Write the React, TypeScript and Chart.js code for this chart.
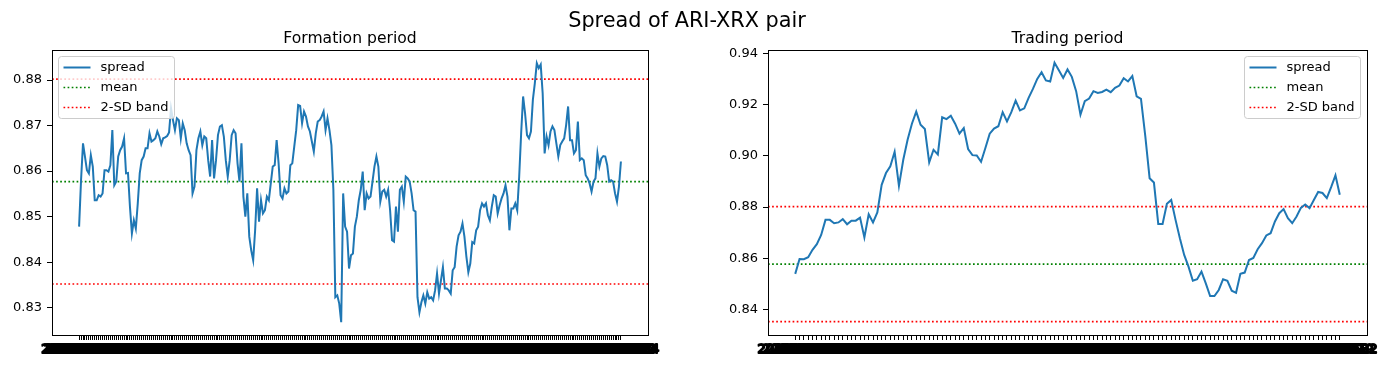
import React, { useEffect, useRef } from 'react';
import { Chart, registerables } from 'chart.js';

Chart.register(...registerables);

const FONT = '"DejaVu Sans", "Liberation Sans", sans-serif';
Chart.defaults.font.family = FONT;
Chart.defaults.color = '#000';

// ---------- data ----------
const formationSpread: number[] = [
  0.8478, 0.8580, 0.8661, 0.8632, 0.8602, 0.8595, 0.8635, 0.8610, 0.8536, 0.8536,
  0.8547, 0.8544, 0.8551, 0.8602, 0.8602, 0.8599, 0.8613, 0.8690, 0.8569, 0.8577,
  0.8632, 0.8646, 0.8654, 0.8672, 0.8595, 0.8596, 0.8522, 0.8463, 0.8492, 0.8474,
  0.8529, 0.8595, 0.8624, 0.8632, 0.8650, 0.8650, 0.8683, 0.8665, 0.8668, 0.8672,
  0.8687, 0.8676, 0.8659, 0.8672, 0.8674, 0.8677, 0.8685, 0.8738, 0.8712, 0.8690,
  0.8716, 0.8712, 0.8672, 0.8705, 0.8690, 0.8661, 0.8646, 0.8635, 0.8551, 0.8566,
  0.8646, 0.8672, 0.8687, 0.8657, 0.8676, 0.8672, 0.8624, 0.8588, 0.8668, 0.8584,
  0.8624, 0.8679, 0.8698, 0.8701, 0.8676, 0.8624, 0.8588, 0.8624, 0.8679, 0.8690,
  0.8683, 0.8617, 0.8577, 0.8661, 0.8544, 0.8500, 0.8551, 0.8456, 0.8426, 0.8404,
  0.8470, 0.8562, 0.8489, 0.8536, 0.8507, 0.8514, 0.8544, 0.8536, 0.8573, 0.8610,
  0.8613, 0.8668, 0.8617, 0.8547, 0.8540, 0.8562, 0.8551, 0.8555, 0.8613, 0.8617,
  0.8654, 0.8690, 0.8745, 0.8743, 0.8705, 0.8731, 0.8720, 0.8698, 0.8687, 0.8665,
  0.8643, 0.8683, 0.8709, 0.8712, 0.8720, 0.8731, 0.8690, 0.8716, 0.8690, 0.8657,
  0.8559, 0.8323, 0.8327, 0.8309, 0.8268, 0.8551, 0.8478, 0.8467, 0.8386, 0.8415,
  0.8419, 0.8478, 0.8500, 0.8536, 0.8559, 0.8599, 0.8514, 0.8551, 0.8540, 0.8544,
  0.8577, 0.8610, 0.8632, 0.8610, 0.8533, 0.8555, 0.8559, 0.8544, 0.8559, 0.8514,
  0.8448, 0.8445, 0.8522, 0.8467, 0.8559, 0.8566, 0.8533, 0.8588, 0.8584, 0.8577,
  0.8551, 0.8514, 0.8511, 0.8323, 0.8290, 0.8312, 0.8327, 0.8309, 0.8334, 0.8320,
  0.8323, 0.8316, 0.8338, 0.8375,
  0.8331, 0.8360, 0.8389, 0.8342, 0.8342, 0.8338, 0.8331, 0.8382, 0.8389, 0.8434,
  0.8459, 0.8467, 0.8485, 0.8456, 0.8412, 0.8378, 0.8397, 0.8444, 0.8441, 0.8470,
  0.8478, 0.8514, 0.8529, 0.8522, 0.8529, 0.8503, 0.8492, 0.8522, 0.8547, 0.8544,
  0.8507, 0.8525, 0.8540, 0.8551, 0.8569, 0.8544, 0.8470, 0.8518, 0.8518, 0.8529,
  0.8514, 0.8588, 0.8683, 0.8764, 0.8727, 0.8679, 0.8672, 0.8687, 0.8757, 0.8793,
  0.8837, 0.8826, 0.8834, 0.8771, 0.8639, 0.8676, 0.8657, 0.8687, 0.8698, 0.8690,
  0.8661, 0.8632, 0.8657, 0.8665, 0.8672, 0.8701, 0.8742, 0.8668, 0.8668, 0.8639,
  0.8646, 0.8709, 0.8624, 0.8628, 0.8624, 0.8591, 0.8584, 0.8573, 0.8555, 0.8577,
  0.8584, 0.8639, 0.8610, 0.8628, 0.8633, 0.8632, 0.8613, 0.8577, 0.8580, 0.8577,
  0.8551, 0.8533, 0.8566, 0.8621,
];

const tradingSpread: number[] = [
  0.8539, 0.8597, 0.8596, 0.8604, 0.8633, 0.8655, 0.8691, 0.8750, 0.8750, 0.8737,
  0.8740, 0.8753, 0.8733, 0.8747, 0.8747, 0.8759, 0.8681, 0.8772, 0.8740, 0.8779,
  0.8887, 0.8933, 0.8959, 0.9016, 0.8883, 0.8985, 0.9063, 0.9126, 0.9173, 0.9122,
  0.9105, 0.8975, 0.9024, 0.9006, 0.9151, 0.9144, 0.9157, 0.9126, 0.9087, 0.9109,
  0.9027, 0.9003, 0.9002, 0.8977, 0.9031, 0.9087, 0.9107, 0.9116, 0.9171, 0.9135,
  0.9171, 0.9216, 0.9178, 0.9186, 0.9227, 0.9262, 0.9301, 0.9327, 0.9295, 0.9291,
  0.9364, 0.9335, 0.9305,
  0.9338, 0.9309, 0.9253, 0.9161, 0.9214, 0.9224, 0.9253, 0.9246, 0.9250, 0.9259,
  0.9249, 0.9266, 0.9275, 0.9304, 0.9291, 0.9312, 0.9233, 0.9223, 0.9077, 0.8913,
  0.8896, 0.8734, 0.8734, 0.8813, 0.8828, 0.8750, 0.8678, 0.8613, 0.8567, 0.8512,
  0.8518, 0.8548, 0.8502, 0.8452, 0.8452, 0.8476, 0.8518, 0.8512, 0.8473, 0.8465,
  0.8539, 0.8544, 0.8593, 0.8601, 0.8635, 0.8659, 0.8689, 0.8698, 0.8744, 0.8776,
  0.8792, 0.8757, 0.8737, 0.8763, 0.8797, 0.8810, 0.8796, 0.8828, 0.8859, 0.8855,
  0.8835, 0.8878, 0.8924, 0.8848,
];

const spreadMean = 0.8577;
const upperBand = 0.8802;
const lowerBand = 0.8352;

const formationYTicks = [0.83, 0.84, 0.85, 0.86, 0.87, 0.88];
const tradingYTicks = [0.84, 0.86, 0.88, 0.90, 0.92, 0.94];
const formationYRange = [0.8240, 0.8866];
const tradingYRange = [0.8300, 0.9414];

const formationStartDate = '2018-01-02';

function businessDays(start: string, count: number): string[] {
  const out: string[] = [];
  const d = new Date(start + 'T00:00:00Z');
  while (out.length < count) {
    const wd = d.getUTCDay();
    if (wd !== 0 && wd !== 6) out.push(d.toISOString().slice(0, 10));
    d.setUTCDate(d.getUTCDate() + 1);
  }
  return out;
}

const formationDates = businessDays(formationStartDate, formationSpread.length);
const tradingStart = (() => {
  const d = new Date(formationDates[formationDates.length - 1] + 'T00:00:00Z');
  d.setUTCDate(d.getUTCDate() + 1);
  return d.toISOString().slice(0, 10);
})();
const tradingDates = businessDays(tradingStart, tradingSpread.length);

const SPREAD_COLOR = '#1f77b4';
const DOT: number[] = [1.7, 2.4];

// ---------- plugins ----------
const framePlugin = {
  id: 'mplFrame',
  afterDraw(chart: any) {
    const { ctx, chartArea: a } = chart;
    ctx.save();
    ctx.strokeStyle = '#000';
    ctx.lineWidth = 1;
    ctx.setLineDash([]);
    ctx.strokeRect(Math.floor(a.left) + 0.5, Math.floor(a.top) + 0.5,
      Math.round(a.right - a.left), Math.round(a.bottom - a.top));
    ctx.restore();
  },
};

// draws every category label under its tick (they overlap into a band, as in the original)
function makeXLabelPlugin(labels: string[]) {
  return {
    id: 'mplXLabels',
    afterDraw(chart: any) {
      const { ctx, chartArea: a } = chart;
      const xs = chart.scales.x;
      ctx.save();
      ctx.fillStyle = '#000';
      ctx.strokeStyle = '#000';
      ctx.lineWidth = 1.8;
      ctx.lineJoin = 'round';
      ctx.font = `13px ${FONT}`;
      ctx.textAlign = 'center';
      ctx.textBaseline = 'top';
      labels.forEach((lab, i) => {
        const x = xs.getPixelForValue(i) + (i % 2) * 0.5;
        ctx.fillText(lab, x, a.bottom + 8);
        ctx.strokeText(lab, x, a.bottom + 8);
      });
      ctx.restore();
    },
  };
}

function makeTitlePlugin(text: string) {
  return {
    id: 'mplTitle',
    afterDraw(chart: any) {
      const { ctx, chartArea: a } = chart;
      ctx.save();
      ctx.fillStyle = '#000';
      ctx.font = `15.6px ${FONT}`;
      ctx.textAlign = 'center';
      ctx.textBaseline = 'alphabetic';
      ctx.fillText(text, (a.left + a.right) / 2, a.top - 7);
      ctx.restore();
    },
  };
}

function makeLegendPlugin(side: 'left' | 'right') {
  return {
    id: 'mplLegend',
    afterDraw(chart: any) {
      const { ctx, chartArea: a } = chart;
      const seen = new Set<string>();
      const entries: any[] = [];
      chart.data.datasets.forEach((ds: any) => {
        if (seen.has(ds.label)) return;
        seen.add(ds.label);
        entries.push(ds);
      });
      const w = 116;
      const h = 62;
      const x = side === 'left' ? Math.round(a.left) + 6.5 : Math.round(a.right) - 6.5 - w;
      const y = Math.round(a.top) + 6.5;
      ctx.save();
      ctx.beginPath();
      const r = 3;
      ctx.moveTo(x + r, y);
      ctx.lineTo(x + w - r, y);
      ctx.arcTo(x + w, y, x + w, y + r, r);
      ctx.lineTo(x + w, y + h - r);
      ctx.arcTo(x + w, y + h, x + w - r, y + h, r);
      ctx.lineTo(x + r, y + h);
      ctx.arcTo(x, y + h, x, y + h - r, r);
      ctx.lineTo(x, y + r);
      ctx.arcTo(x, y, x + r, y, r);
      ctx.closePath();
      ctx.fillStyle = 'rgba(255,255,255,0.8)';
      ctx.fill();
      ctx.strokeStyle = '#cccccc';
      ctx.lineWidth = 1;
      ctx.stroke();
      entries.forEach((ds, i) => {
        const cy = y + 11 + i * 20;
        ctx.beginPath();
        ctx.setLineDash(ds.borderDash || []);
        ctx.strokeStyle = ds.borderColor;
        ctx.lineWidth = ds.borderWidth;
        ctx.moveTo(x + 5, cy);
        ctx.lineTo(x + 32, cy);
        ctx.stroke();
        ctx.setLineDash([]);
        ctx.fillStyle = '#000';
        ctx.font = `13px ${FONT}`;
        ctx.textBaseline = 'middle';
        ctx.textAlign = 'left';
        ctx.fillText(ds.label, x + 42, cy);
      });
      ctx.restore();
    },
  };
}

// ---------- panel ----------
interface PanelProps {
  title: string;
  labels: string[];
  values: number[];
  yRange: number[];
  yTicks: number[];
  legendSide: 'left' | 'right';
  yAxisWidth: number;
  padRight: number;
  left: number;
}

function SpreadPanel(p: PanelProps) {
  const ref = useRef<HTMLCanvasElement>(null);
  useEffect(() => {
    const n = p.values.length;
    const xMin = -0.05 * (n - 1);
    const xMax = (n - 1) * 1.05;
    const hline = (v: number) => [{ x: xMin, y: v }, { x: xMax, y: v }];
    const chart = new Chart(ref.current as HTMLCanvasElement, {
      type: 'line',
      data: {
        datasets: [
          {
            label: 'spread',
            data: p.values.map((v, i) => ({ x: i, y: v })),
            borderColor: SPREAD_COLOR,
            borderWidth: 2,
            pointRadius: 0,
            tension: 0,
          },
          {
            label: 'mean',
            data: hline(spreadMean),
            borderColor: 'green',
            borderWidth: 1.7,
            borderDash: DOT,
            pointRadius: 0,
          },
          {
            label: '2-SD band',
            data: hline(upperBand),
            borderColor: 'red',
            borderWidth: 1.7,
            borderDash: DOT,
            pointRadius: 0,
          },
          {
            label: '2-SD band',
            data: hline(lowerBand),
            borderColor: 'red',
            borderWidth: 1.7,
            borderDash: DOT,
            pointRadius: 0,
          },
        ],
      } as any,
      options: {
        responsive: false,
        animation: false,
        events: [],
        layout: { padding: { left: 0, right: p.padRight, top: 50, bottom: 0 } },
        plugins: {
          legend: { display: false },
          tooltip: { enabled: false },
          title: { display: false },
        },
        scales: {
          x: {
            type: 'linear',
            min: xMin,
            max: xMax,
            afterBuildTicks: (ax: any) => {
              ax.ticks = p.labels.map((_, i) => ({ value: i }));
            },
            afterFit: (ax: any) => {
              ax.height = 39;
              ax.paddingLeft = 0;
              ax.paddingRight = 0;
            },
            ticks: {
              display: false,
              autoSkip: false,
              maxRotation: 0,
              minRotation: 0,
            },
            grid: {
              display: true,
              drawOnChartArea: false,
              drawTicks: true,
              tickLength: 5,
              tickColor: '#000',
              tickWidth: 1,
            },
            border: { display: false },
          },
          y: {
            type: 'linear',
            min: p.yRange[0],
            max: p.yRange[1],
            afterBuildTicks: (ax: any) => {
              ax.ticks = p.yTicks.map((v) => ({ value: v }));
            },
            afterFit: (ax: any) => {
              ax.width = p.yAxisWidth;
              ax.paddingTop = 0;
              ax.paddingBottom = 0;
            },
            ticks: {
              padding: 5,
              color: '#000',
              font: { size: 13, family: FONT },
              callback: (v: any) => Number(v).toFixed(2),
            },
            grid: {
              display: true,
              drawOnChartArea: false,
              drawTicks: true,
              tickLength: 5,
              tickColor: '#000',
              tickWidth: 1,
            },
            border: { display: false },
          },
        },
      } as any,
      plugins: [framePlugin, makeXLabelPlugin(p.labels), makeTitlePlugin(p.title), makeLegendPlugin(p.legendSide)],
    });
    return () => chart.destroy();
  }, []);
  return (
    <canvas
      ref={ref}
      width={700}
      height={374}
      style={{ position: 'absolute', left: p.left, top: 0, width: 700, height: 374 }}
    />
  );
}

export default function App() {
  return (
    <div style={{ position: 'absolute', left: 0, top: 0, width: 1400, height: 374, background: '#fff', overflow: 'hidden' }}>
      <div
        style={{
          position: 'absolute',
          left: 487,
          width: 400,
          top: 8,
          textAlign: 'center',
          fontFamily: FONT,
          fontSize: 20.8,
          lineHeight: '24px',
          color: '#000',
          whiteSpace: 'nowrap',
          zIndex: 2,
        }}
      >
        Spread of ARI-XRX pair
      </div>
      <SpreadPanel
        title="Formation period"
        labels={formationDates}
        values={formationSpread}
        yRange={formationYRange}
        yTicks={formationYTicks}
        legendSide="left"
        yAxisWidth={52}
        padRight={52}
        left={0}
      />
      <SpreadPanel
        title="Trading period"
        labels={tradingDates}
        values={tradingSpread}
        yRange={tradingYRange}
        yTicks={tradingYTicks}
        legendSide="right"
        yAxisWidth={68}
        padRight={33}
        left={700}
      />
    </div>
  );
}
